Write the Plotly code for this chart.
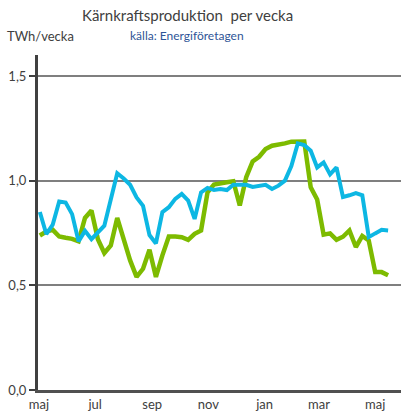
import plotly.graph_objects as go
import pandas as pd

start_date = "2022-05-02"
n_weeks = 55
weeks = pd.date_range(start_date, periods=n_weeks, freq="7D")

blue_values = [0.85, 0.745, 0.79, 0.90, 0.895, 0.84, 0.71, 0.76, 0.72, 0.755,
               0.785, 0.91, 1.035, 1.01, 0.98, 0.92, 0.88, 0.74, 0.70, 0.85,
               0.873, 0.913, 0.937, 0.905, 0.817, 0.944, 0.965, 0.955, 0.96, 0.955,
               0.98, 0.98, 0.98, 0.97, 0.975, 0.98, 0.96, 0.976, 1.0, 1.07,
               1.178, 1.17, 1.143, 1.063, 1.087, 1.03, 1.063, 0.922, 0.93, 0.94,
               0.93, 0.73, 0.748, 0.765, 0.762]

green_values = [0.738, 0.757, 0.765, 0.733, 0.727, 0.722, 0.71, 0.822, 0.857, 0.72,
                0.654, 0.69, 0.822, 0.714, 0.619, 0.54, 0.579, 0.67, 0.54, 0.643,
                0.733, 0.733, 0.73, 0.717, 0.746, 0.762, 0.944, 0.981, 0.984, 0.992,
                0.997, 0.881, 1.016, 1.092, 1.114, 1.151, 1.167, 1.171, 1.178, 1.186,
                1.187, 1.187, 0.968, 0.91, 0.742, 0.748, 0.717, 0.732, 0.762, 0.683,
                0.736, 0.714, 0.563, 0.563, 0.548]

month_ticks = ["2022-05-01", "2022-07-01", "2022-09-01", "2022-11-01",
               "2023-01-01", "2023-03-01", "2023-05-01"]
month_labels = ["maj", "jul", "sep", "nov", "jan", "mar", "maj"]

y_ticks = [0.0, 0.5, 1.0, 1.5]
y_labels = ["0,0", "0,5", "1,0", "1,5"]

title_text = "Kärnkraftsproduktion  per vecka"
unit_text = "TWh/vecka"
source_text = "källa: Energiföretagen"

FONT = "Lato, Carlito, Calibri, sans-serif"

fig = go.Figure()
fig.add_trace(go.Scatter(x=weeks, y=green_values, mode="lines",
                         line=dict(color="#7DBB00", width=4.5), hoverinfo="skip"))
fig.add_trace(go.Scatter(x=weeks, y=blue_values, mode="lines",
                         line=dict(color="#0DB7E3", width=4), hoverinfo="skip"))

W, H = 401, 420
ML, MR, MT, MB = 38, 0, 55, 30

fig.update_layout(
    width=W, height=H,
    margin=dict(l=ML, r=MR, t=MT, b=MB),
    paper_bgcolor="white", plot_bgcolor="white",
    showlegend=False,
    font=dict(family=FONT, color="#404040", size=13),
    xaxis=dict(
        type="date",
        range=["2022-04-30", "2023-05-29"],
        tickvals=month_ticks, ticktext=month_labels,
        showgrid=False, zeroline=False,
        showline=True, linecolor="#505050", linewidth=3,
        ticks="", tickfont=dict(size=13, color="#404040"),
    ),
    yaxis=dict(
        range=[0, 1.6],
        tickvals=y_ticks, ticktext=y_labels,
        showgrid=True, gridcolor="#7F7F7F", gridwidth=2,
        zeroline=False,
        showline=True, linecolor="#404040", linewidth=3,
        ticks="outside", ticklen=6, tickwidth=2, tickcolor="#404040",
        tickfont=dict(size=13, color="#404040"),
    ),
)

plot_w = W - ML - MR
plot_h = H - MT - MB
def px_to_paper(px, py):
    return (px - ML) / plot_w, (H - MB - py) / plot_h

header = [
    (title_text, 187, 15, "center", 15, "#404040"),
    (unit_text, 5, 36, "left", 13, "#404040"),
    (source_text, 128, 35, "left", 12, "#2F5597"),
]
for text, px, py, anchor, size, color in header:
    xp, yp = px_to_paper(px, py)
    fig.add_annotation(text=text, x=xp, y=yp, xref="paper", yref="paper",
                       xanchor=anchor, yanchor="middle", showarrow=False,
                       font=dict(size=size, color=color))

fig.write_html("out.html", config={"displayModeBar": False},
               post_script="document.body.style.margin='0';")
